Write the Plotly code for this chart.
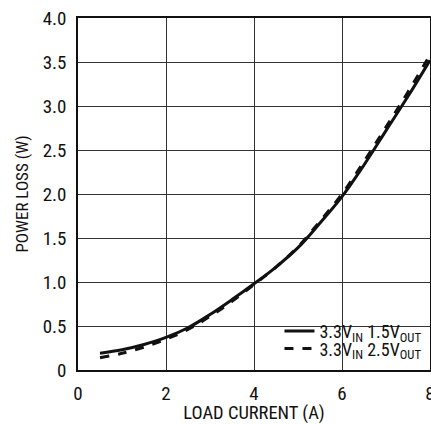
import plotly.graph_objects as go

load_current = [0.5, 1, 1.5, 2, 2.5, 3, 3.5, 4, 4.5, 5, 5.5, 6, 6.5, 7, 7.5, 8]
loss_1v5 = [0.19, 0.23, 0.29, 0.37, 0.48, 0.63, 0.80, 0.98, 1.17, 1.39, 1.67, 1.97, 2.33, 2.72, 3.11, 3.52]
loss_2v5 = [0.14, 0.19, 0.26, 0.35, 0.46, 0.61, 0.78, 0.97, 1.17, 1.40, 1.69, 2.00, 2.37, 2.76, 3.16, 3.58]
names = ["3.3V<sub>IN</sub> 1.5V<sub>OUT</sub>", "3.3V<sub>IN</sub> 2.5V<sub>OUT</sub>"]
x_ticks = [0, 2, 4, 6, 8]
y_ticks = [0, 0.5, 1.0, 1.5, 2.0, 2.5, 3.0, 3.5, 4.0]
y_labels = ["0", "0.5", "1.0", "1.5", "2.0", "2.5", "3.0", "3.5", "4.0"]

FONT = "Roboto Condensed, Liberation Sans Narrow, Arial Narrow, sans-serif"

fig = go.Figure()
fig.add_trace(go.Scatter(x=load_current, y=loss_1v5, mode="lines", name=names[0],
                         legend="legend",
                         line=dict(color="#111111", width=3, shape="spline")))
fig.add_trace(go.Scatter(x=load_current, y=loss_2v5, mode="lines", name=names[1],
                         legend="legend2",
                         line=dict(color="#111111", width=3, dash="dash", shape="spline")))

# white backdrop behind the legend (hides gridlines, drawn beneath the traces)
fig.add_shape(type="rect", xref="x", yref="y",
              x0=4.03, x1=8.0, y0=0.14, y1=0.57, layer="below",
              fillcolor="white", line=dict(width=0))

leg_common = dict(xanchor="right", yanchor="middle", bgcolor="rgba(0,0,0,0)",
                  font=dict(size=18), itemwidth=30, borderwidth=0)

fig.update_layout(
    width=431, height=424,
    margin=dict(l=78, r=1, t=18, b=54),
    paper_bgcolor="white", plot_bgcolor="white",
    font=dict(family=FONT, color="#111111", size=17),
    showlegend=True,
    legend=dict(x=0.99, y=0.110, **leg_common),
    legend2=dict(x=0.99, y=0.060, **leg_common),
    xaxis=dict(range=[0, 8], tickvals=x_ticks, ticktext=[str(t) for t in x_ticks],
               showgrid=True, gridcolor="#333333", gridwidth=1,
               showline=True, linecolor="#111111", linewidth=1.5, mirror=True,
               ticks="outside", ticklen=5, tickcolor="rgba(0,0,0,0)",
               zeroline=False, ticklabeloverflow="allow", automargin=False,
               title=dict(text="LOAD CURRENT (A)", font=dict(size=18.5), standoff=12),
               tickfont=dict(size=19)),
    yaxis=dict(range=[0, 4], tickvals=y_ticks, ticktext=y_labels,
               showgrid=True, gridcolor="#333333", gridwidth=1,
               showline=True, linecolor="#111111", linewidth=1.5, mirror=True,
               ticks="outside", ticklen=6, tickcolor="rgba(0,0,0,0)",
               zeroline=False, automargin=False,
               title=dict(text="POWER LOSS (W)", font=dict(size=17), standoff=10),
               tickfont=dict(size=19)),
)

fig.write_html("out.html")
